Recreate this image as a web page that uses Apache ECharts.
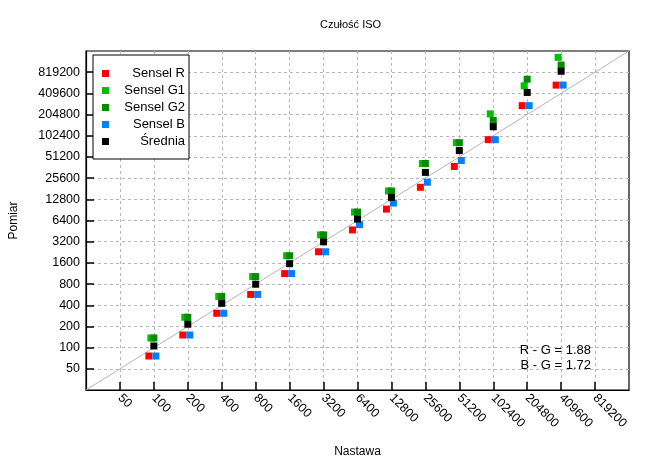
<!DOCTYPE html>
<html>
<head>
<meta charset="utf-8">
<script src="https://cdn.jsdelivr.net/npm/echarts@6/dist/echarts.min.js"></script>
<style>html,body{margin:0;padding:0;background:#fff}#c{width:670px;height:463px}</style>
</head>
<body>
<div id="c"></div>
<script>
const isoSettings = [100, 200, 400, 800, 1600, 3200, 6400, 12800, 25600, 51200, 102400, 204800, 409600];
const senselR  = [76, 151, 308, 570, 1127, 2300, 4700, 9290, 18960, 37510, 90080, 274000, 536700];
const senselG1 = [137, 270, 534, 1022, 2021, 3995, 8430, 16820, 41340, 81700, 209400, 524500, 1331000];
const senselG2 = [137, 270, 534, 1022, 2021, 3995, 8430, 16820, 41340, 81700, 168400, 651600, 1036000];
const senselB  = [76, 151, 308, 570, 1127, 2300, 5584, 11320, 22380, 45540, 90080, 274000, 536700];
const srednia  = [105.5, 215, 426, 796, 1559, 3184, 6715, 13630, 30870, 63030, 137300, 422000, 845000];
const tickValues = [50, 100, 200, 400, 800, 1600, 3200, 6400, 12800, 25600, 51200, 102400, 204800, 409600, 819200];
const axisMin = 25, axisMax = 1638400;
const notes = ['R - G = 1.88', 'B - G = 1.72'];

const FONT = '"Liberation Sans", Arial, sans-serif';
const pairs = arr => isoSettings.map((x, i) => [x, arr[i]]);

function axisCommon(name, isX) {
  return {
    type: 'log', logBase: 2, min: axisMin, max: axisMax,
    name: name, nameLocation: 'middle', nameGap: isX ? 56 : 66,
    nameTextStyle: { fontFamily: FONT, fontSize: 12, color: '#000' },
    axisLine: { show: true, lineStyle: { color: '#000', width: 1.2 } },
    axisTick: { show: true, inside: true, length: 8, customValues: tickValues, lineStyle: { color: '#000', width: 1.5 } },
    axisLabel: {
      customValues: tickValues, rotate: isX ? -45 : 0, margin: 6,
      fontFamily: FONT, fontSize: 12.5, color: '#000',
      formatter: v => String(Math.round(v))
    },
    splitLine: { show: true, lineStyle: { color: '#b8b8b8', type: [3, 3], width: 1 } },
    minorTick: { show: false }, minorSplitLine: { show: false }
  };
}

const mk = (name, data, color, off) => ({
  name, type: 'scatter', data: pairs(data), symbol: 'rect', symbolSize: 7,
  symbolOffset: [off, 0], itemStyle: { color: color, opacity: 1 }, z: 3,
  emphasis: { disabled: true }
});

const chart = echarts.init(document.getElementById('c'), null, { renderer: 'canvas' });
chart.setOption({
  animation: false,
  backgroundColor: '#fff',
  title: {
    text: 'Czułość ISO', left: 315, top: 14,
    textStyle: { fontFamily: FONT, fontSize: 11, fontWeight: 'normal', color: '#000' }
  },
  grid: { left: 85, right: 41, top: 51, bottom: 71, show: true, borderColor: '#000', borderWidth: 1.2, backgroundColor: 'transparent' },
  xAxis: axisCommon('Nastawa', true),
  yAxis: axisCommon('Pomiar', false),
  legend: {
    orient: 'vertical', left: 93, top: 55, padding: [12, 4, 11, 9], itemGap: 4,
    itemWidth: 7, itemHeight: 7, icon: 'rect',
    borderColor: '#000', borderWidth: 1, backgroundColor: '#fff',
    data: ['Sensel R', 'Sensel G1', 'Sensel G2', 'Sensel B', 'Średnia'],
    formatter: n => '{a|' + n + '}',
    textStyle: { rich: { a: { width: 71, align: 'right', fontFamily: FONT, fontSize: 13, lineHeight: 14, color: '#000' } } },
    selectedMode: false
  },
  graphic: notes.map((t, i) => ({
    type: 'text', x: 591, y: 350 + i * 15, z: 10,
    style: { text: t, textAlign: 'right', textVerticalAlign: 'middle', fontFamily: FONT, fontSize: 13, fill: '#000' }
  })),
  series: [
    {
      name: 'diag', type: 'line', data: [[axisMin, axisMin], [axisMax, axisMax]],
      symbol: 'none', lineStyle: { color: '#b4b4b4', width: 1 }, z: 1, silent: true
    },
    mk('Sensel R', senselR, '#ff0000', -5),
    mk('Sensel G1', senselG1, '#00c000', -3),
    mk('Sensel G2', senselG2, '#008c00', 0),
    mk('Sensel B', senselB, '#0080ff', 2),
    mk('Średnia', srednia, '#000000', 0)
  ]
});
</script>
</body>
</html>
